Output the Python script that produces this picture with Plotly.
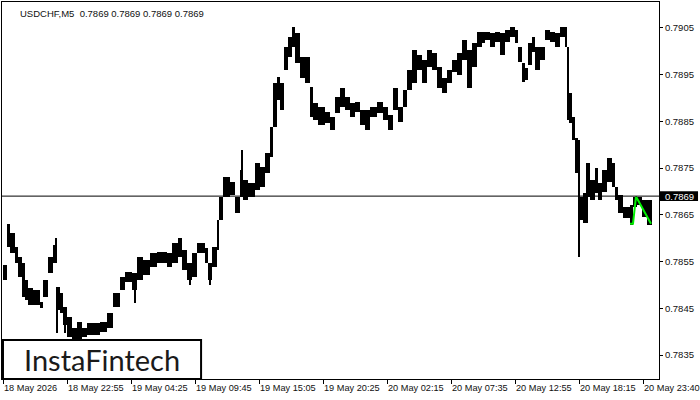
import plotly.graph_objects as go

# ---- data ----
# each group: start bar index, high, low  (M5 bars aggregated)
grp_start = [0, 4, 7, 12, 15, 19, 22, 25, 30, 37, 40, 45, 50, 54, 57, 60, 64, 69, 74, 79,
             84, 97, 104, 110, 117, 122, 129, 134, 140, 147, 154, 164, 169, 175, 179, 184, 189, 194, 202, 205,
             209, 214, 216, 220, 227, 232, 237, 240, 245, 252, 257, 262, 267, 270, 274, 277, 281, 285, 289, 292,
             297, 302, 307, 310, 315, 322, 327, 332, 337, 342, 347, 352, 357, 362, 367, 374, 380, 385, 390, 395,
             400, 404, 409, 414, 419, 424, 429, 434, 439, 444, 449, 454, 459, 464, 469, 474, 479, 482, 487, 492,
             497, 502, 507, 512, 515, 519, 522, 525, 529, 532, 537, 542, 547, 552, 557, 562, 564, 566, 569, 572,
             575, 577, 580, 584, 587, 592, 595, 599, 604, 609, 612, 615, 620, 627, 630, 634, 639, 644]
grp_end_last = 649
grp_high = [0.78543, 0.78631, 0.78611, 0.78581, 0.78560, 0.78547, 0.78511, 0.78494, 0.78489, 0.78464,
            0.78511, 0.78560, 0.78586, 0.78496, 0.78483, 0.78453, 0.78432, 0.78408, 0.78421, 0.78408,
            0.78419, 0.78421, 0.78440, 0.78483, 0.78517, 0.78528, 0.78526, 0.78560, 0.78554, 0.78569,
            0.78571, 0.78569, 0.78590, 0.78601, 0.78575, 0.78547, 0.78569, 0.78590, 0.78579, 0.78547,
            0.78581, 0.78639, 0.78688, 0.78731, 0.78720, 0.78688, 0.78746, 0.78725, 0.78718, 0.78761,
            0.78752, 0.78782, 0.78838, 0.78932, 0.78945, 0.78932, 0.79009, 0.79030, 0.79051, 0.79039,
            0.78987, 0.78987, 0.78923, 0.78889, 0.78880, 0.78870, 0.78859, 0.78902, 0.78921, 0.78902,
            0.78889, 0.78891, 0.78874, 0.78874, 0.78880, 0.78891, 0.78880, 0.78863, 0.78921, 0.78880,
            0.78917, 0.78960, 0.79002, 0.78992, 0.78981, 0.79002, 0.78996, 0.78966, 0.78943, 0.78960,
            0.78981, 0.78996, 0.79024, 0.79002, 0.79017, 0.79041, 0.79041, 0.79041, 0.79039, 0.79041,
            0.79039, 0.79045, 0.79051, 0.79045, 0.79009, 0.78975, 0.78964, 0.79017, 0.79030, 0.79009,
            0.79009, 0.79045, 0.79041, 0.79039, 0.79051, 0.79051, 0.79009, 0.78910, 0.78859, 0.78814,
            0.78810, 0.78688, 0.78697, 0.78761, 0.78725, 0.78750, 0.78718, 0.78746, 0.78772, 0.78761,
            0.78710, 0.78693, 0.78667, 0.78671, 0.78688, 0.78688, 0.78682, 0.78682]
grp_low = [0.78511, 0.78581, 0.78569, 0.78547, 0.78517, 0.78474, 0.78468, 0.78457, 0.78457, 0.78451,
           0.78474, 0.78526, 0.78547, 0.78446, 0.78440, 0.78415, 0.78389, 0.78383, 0.78383, 0.78389,
           0.78393, 0.78400, 0.78408, 0.78453, 0.78489, 0.78507, 0.78489, 0.78511, 0.78522, 0.78539,
           0.78547, 0.78539, 0.78547, 0.78560, 0.78532, 0.78511, 0.78517, 0.78569, 0.78547, 0.78511,
           0.78539, 0.78575, 0.78639, 0.78688, 0.78693, 0.78654, 0.78688, 0.78682, 0.78688, 0.78703,
           0.78710, 0.78739, 0.78774, 0.78838, 0.78895, 0.78874, 0.78960, 0.78987, 0.79009, 0.78975,
           0.78943, 0.78932, 0.78859, 0.78853, 0.78842, 0.78846, 0.78831, 0.78868, 0.78880, 0.78874,
           0.78859, 0.78870, 0.78842, 0.78831, 0.78859, 0.78868, 0.78853, 0.78831, 0.78874, 0.78849,
           0.78880, 0.78917, 0.78932, 0.78960, 0.78932, 0.78966, 0.78960, 0.78921, 0.78910, 0.78932,
           0.78955, 0.78949, 0.78981, 0.78921, 0.78966, 0.79009, 0.79017, 0.79024, 0.79009, 0.79019,
           0.78992, 0.79019, 0.79030, 0.79017, 0.78977, 0.78934, 0.78938, 0.78970, 0.78998, 0.78960,
           0.78981, 0.79024, 0.79019, 0.79009, 0.79030, 0.79009, 0.78853, 0.78846, 0.78810, 0.78739,
           0.78697, 0.78639, 0.78633, 0.78688, 0.78682, 0.78697, 0.78682, 0.78699, 0.78720, 0.78710,
           0.78682, 0.78654, 0.78643, 0.78628, 0.78667, 0.78671, 0.78645, 0.78628]

# single-bar wicks that stick out of the band
spike_idx = [53, 54, 62, 132, 187, 207, 239, 573, 576, 584]
spike_high = [0.78601, 0.78496, 0.78440, 0.78507, 0.78532, 0.78532, 0.78789, 0.78814, 0.78697, 0.78761]
spike_low = [0.78547, 0.78397, 0.78397, 0.78461, 0.78500, 0.78500, 0.78688, 0.78772, 0.78560, 0.78633]

# pattern (green) polyline
pat_idx = [627, 630, 633, 648]
pat_price = [0.78631, 0.78631, 0.78689, 0.78631]

current_price = 0.7869
symbol_text = "USDCHF,M5  0.7869 0.7869 0.7869 0.7869"

x_tick_idx = [0, 64, 128, 192, 256, 320, 384, 448, 512, 576, 640]
x_tick_text = ["18 May 2026", "18 May 22:55", "19 May 04:25", "19 May 09:45", "19 May 15:05",
               "19 May 20:25", "20 May 02:15", "20 May 07:35", "20 May 12:55", "20 May 18:15",
               "20 May 23:40"]
y_tick_vals = [0.7835, 0.7845, 0.7855, 0.7865, 0.7875, 0.7885, 0.7895, 0.7905]

# ---- build ----
ends = grp_start[1:] + [grp_end_last]
centers = [(s + e) / 2 for s, e in zip(grp_start, ends)]
widths = [e - s for s, e in zip(grp_start, ends)]

fig = go.Figure()
fig.add_trace(go.Bar(x=centers, width=widths, base=grp_low,
                     y=[h - l for h, l in zip(grp_high, grp_low)],
                     marker=dict(color="black", line=dict(width=0)),
                     hoverinfo="skip", showlegend=False))
fig.add_trace(go.Bar(x=spike_idx, width=[1] * len(spike_idx), base=spike_low,
                     y=[h - l for h, l in zip(spike_high, spike_low)],
                     marker=dict(color="black", line=dict(width=0)),
                     hoverinfo="skip", showlegend=False))
fig.add_trace(go.Scatter(x=pat_idx, y=pat_price, mode="lines",
                         line=dict(color="#00ee00", width=2),
                         hoverinfo="skip", showlegend=False))

FONT = "Liberation Sans"
fig.update_layout(
    width=700, height=400,
    margin=dict(l=2, r=41, t=2, b=21, autoexpand=False),
    paper_bgcolor="white", plot_bgcolor="white",
    barmode="overlay", bargap=0,
    font=dict(family=FONT, size=10, color="black"),
    xaxis=dict(range=[-1, 656], showgrid=False, zeroline=False,
               showline=True, mirror=True, linecolor="black", linewidth=1,
               ticks="outside", ticklen=4, tickcolor="black",
               tickvals=x_tick_idx, ticktext=x_tick_text, tickangle=0,
               ticklabelposition="outside right", ticklabeloverflow="allow",
               automargin=False,
               tickfont=dict(family=FONT, size=9.2, color="#101010")),
    yaxis=dict(range=[0.78299, 0.79105], side="right", showgrid=False, zeroline=False,
               showline=True, mirror=True, linecolor="black", linewidth=1,
               ticks="outside", ticklen=3, tickcolor="black", automargin=False,
               tickvals=y_tick_vals, ticktext=[f"{v:.4f}" for v in y_tick_vals],
               tickfont=dict(family=FONT, size=9.5, color="#101010")),
)

# current price line
fig.add_shape(type="line", xref="paper", yref="y", x0=0, x1=1,
              y0=current_price, y1=current_price, line=dict(color="black", width=1))
# current price label
fig.add_shape(type="rect", xref="paper", yref="y", x0=1.0015, x1=1.0594,
              y0=current_price - 0.000105, y1=current_price + 0.000105,
              fillcolor="black", line=dict(width=0), layer="above")
fig.add_annotation(xref="paper", yref="y", x=1.0305, y=current_price, text=f"{current_price:.4f}",
                   showarrow=False, font=dict(family=FONT, size=9.5, color="white"),
                   xanchor="center", yanchor="middle")

# symbol header
fig.add_annotation(xref="paper", yref="paper", x=0.024, y=0.97, text=symbol_text,
                   showarrow=False, xanchor="left", yanchor="middle",
                   font=dict(family=FONT, size=9.5, color="#101010"))

# logo box
fig.add_shape(type="rect", xref="paper", yref="paper", x0=0.0015, x1=0.3030, y0=0.0, y1=0.1034,
              fillcolor="white", line=dict(color="black", width=2), layer="above")
fig.add_annotation(xref="paper", yref="paper", x=0.1523, y=0.052, text="InstaFintech",
                   showarrow=False, xanchor="center", yanchor="middle",
                   font=dict(family="Lato", size=29, color="#1a1a1a"))

fig.write_html("out.html", config={"displayModeBar": False},
               post_script="document.body.style.margin='0px';document.body.style.overflow='hidden';")
